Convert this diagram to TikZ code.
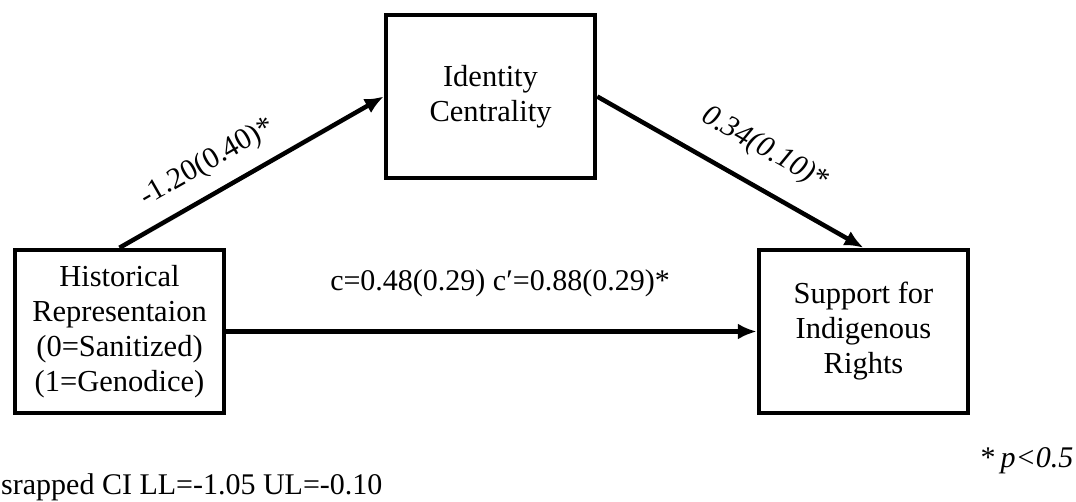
\documentclass[tikz,border=0pt]{standalone}
\usepackage{fontspec}
\setmainfont{Liberation Serif}
\usetikzlibrary{arrows.meta}
\begin{document}
\begin{tikzpicture}[x=1pt,y=-1pt,
  box/.style={draw,line width=4.5pt,minimum width=209pt,minimum height=163pt,inner sep=0pt,align=center,font=\fontsize{30.5}{35}\selectfont},
  conn/.style={line width=4.5pt,-{Latex[length=19pt,width=16pt]}},
  lbl/.style={font=\fontsize{30}{34}\selectfont,inner sep=0pt}]
\useasboundingbox (0,0) rectangle (1076,501);
\node[box] (ic) at (490.5,96.5) {Identity\\Centrality};
\node[box] (hi) at (119.5,331.5) {Historical\\Representaion\\(0=Sanitized)\\(1=Genodice)};
\node[box] (su) at (863.5,331.5) {Support for\\Indigenous\\Rights};
\draw[conn] (hi.north) -- node[lbl,sloped,above=14pt,pos=0.39] (la) {-1.20(0.40)*} (ic.west);
\draw[conn] (ic.east) -- node[lbl,sloped,above=21pt,pos=0.56] (lb) {\textit{0.34(0.10)*}} (su.north);
\draw[conn] (hi.east) -- (su.west);
\node[lbl] (lc) at (500,283) {c=0.48(0.29) c′=0.88(0.29)*};
\node[lbl] (pn) at (1027,461) {*\,\textit{p<0.5}};
\node[lbl,anchor=west] (ci) at (1,487) {srapped CI LL=-1.05 UL=-0.10};
\end{tikzpicture}
\end{document}
